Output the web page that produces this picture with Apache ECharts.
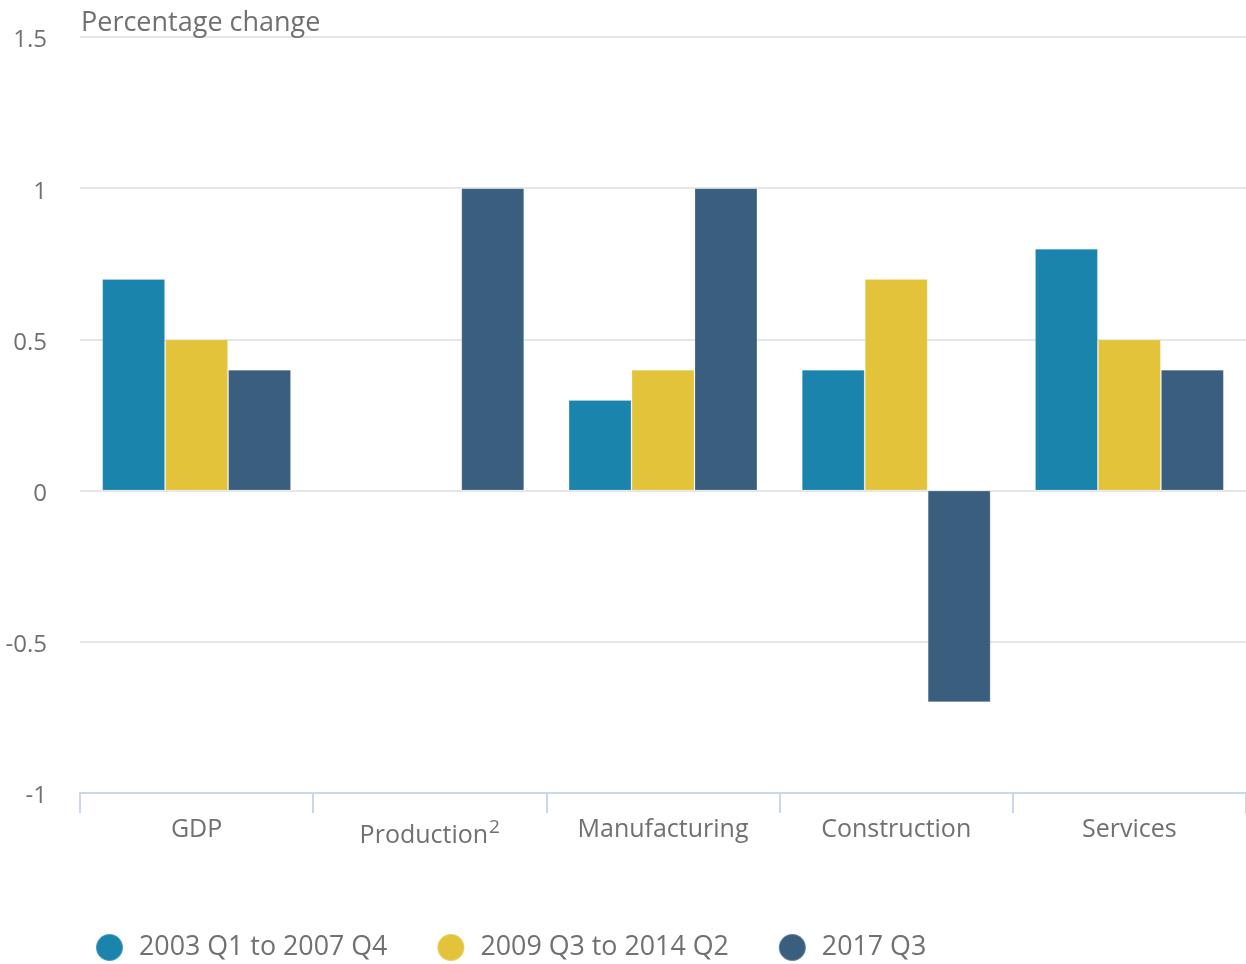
<!DOCTYPE html>
<html>
<head>
<meta charset="utf-8">
<script src="https://cdn.jsdelivr.net/npm/echarts@6/dist/echarts.min.js"></script>
<style>html,body{margin:0;padding:0;background:#fff;}#c{width:1246px;height:964px;}</style>
</head>
<body>
<div id="c"></div>
<script>
const categories = ['GDP', 'Production', 'Manufacturing', 'Construction', 'Services'];
const seriesNames = ['2003 Q1 to 2007 Q4', '2009 Q3 to 2014 Q2', '2017 Q3'];
const pre = [0.7, null, 0.3, 0.4, 0.8];
const recovery = [0.5, null, 0.4, 0.7, 0.5];
const latest = [0.4, 1.0, 1.0, -0.7, 0.4];
const yTicks = [-1, -0.5, 0, 0.5, 1, 1.5];
const colors = ['#1a84ad', '#e3c33a', '#3a5e7e'];
const font = '"Open Sans", "Noto Sans", sans-serif';
const txt = '#707070';

const chart = echarts.init(document.getElementById('c'));
const mk = (name, data, i) => ({
  name, type: 'bar', data,
  barGap: '0%', barCategoryGap: '19%',
  itemStyle: { color: colors[i], borderColor: 'rgba(255,255,255,0.2)', borderWidth: 1 },
  emphasis: { disabled: true }
});
chart.setOption({
  animation: false,
  textStyle: { fontFamily: font },
  title: {
    text: 'Percentage change', left: 76, top: 5,
    textStyle: { fontFamily: font, fontSize: 27, fontWeight: 'normal', color: txt }
  },
  grid: { left: 80, right: 0, top: 37, bottom: 171, containLabel: false },
  legend: {
    left: 95, top: 933, padding: 0, icon: 'circle', itemWidth: 27, itemHeight: 27, itemGap: 49,
    textStyle: { fontFamily: font, fontSize: 26.8, color: txt, padding: [0, 0, 0, 11] },
    data: seriesNames
  },
  xAxis: {
    type: 'category', data: categories,
    axisLine: { onZero: false, lineStyle: { color: '#ccd6eb', width: 2 } },
    axisTick: { show: true, interval: 0, length: 20, alignWithLabel: false, lineStyle: { color: '#ccd6eb', width: 2 } },
    axisLabel: {
      interval: 0, margin: 24, fontSize: 25, color: txt, fontFamily: font,
      formatter: v => v === 'Production' ? '{a|Production}{s|2}' : v,
      rich: {
        a: { fontSize: 25, color: txt, fontFamily: font, padding: [6, 0, 0, 0] },
        s: { fontSize: 19, color: txt, fontFamily: font, padding: [0, 0, 9, 1] }
      }
    }
  },
  yAxis: {
    type: 'value', min: yTicks[0], max: yTicks[yTicks.length - 1], interval: 0.5,
    axisLine: { show: false }, axisTick: { show: false },
    axisLabel: {
      color: txt, fontFamily: font, margin: 33,
      formatter: v => '{v|' + String(v) + '}',
      rich: { v: { fontSize: 24, color: txt, fontFamily: font, padding: [7, 0, 0, 0] } }
    },
    splitLine: { lineStyle: { color: '#e6e6e6', width: 2 } }
  },
  series: [mk(seriesNames[0], pre, 0), mk(seriesNames[1], recovery, 1), mk(seriesNames[2], latest, 2)]
});
</script>
</body>
</html>
